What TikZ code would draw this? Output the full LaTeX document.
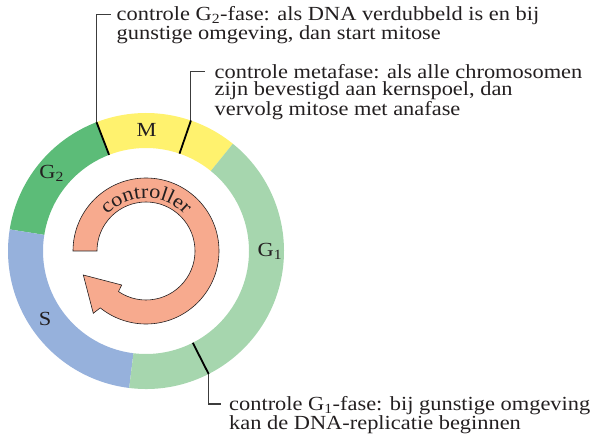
\documentclass[tikz,border=0pt]{standalone}
\usepackage{fontspec}
\setmainfont{Liberation Serif}[FakeStretch=1.12]
\usetikzlibrary{decorations.text}
\definecolor{cM}{RGB}{255,242,110}
\definecolor{cGtwo}{RGB}{92,188,120}
\definecolor{cGone}{RGB}{166,214,174}
\definecolor{cS}{RGB}{150,177,220}
\definecolor{carrow}{RGB}{247,170,142}
\definecolor{cink}{RGB}{35,31,32}
\definecolor{cleader}{RGB}{60,60,60}
\newcommand\lblfont{\fontsize{20pt}{17.7pt}\selectfont}
\def\Rout{138pt}
\def\Rin{103pt}
\newcommand\ringseg[3]{\fill[#1] ([shift={(#2:\Rout)}]C) arc[start angle=#2,end angle=#3,radius=\Rout] -- ([shift={(#3:\Rin)}]C) arc[start angle=#3,end angle=#2,radius=\Rin] -- cycle;}
\tikzset{
  txt/.style={font=\lblfont, text=cink, inner sep=0pt, anchor=base west},
  seglbl/.style={font=\lblfont, text=cink, inner sep=0pt, anchor=base},
  ckline/.style={draw=black, line width=1.8pt},
  leader/.style={draw=cleader, line width=1.1pt},
}
\begin{document}
\begin{tikzpicture}[x=1pt,y=1pt]
\useasboundingbox (0,0) rectangle (604,439);
\coordinate (C) at (146,188);
% ring
\ringseg{cM}{51}{111}
\ringseg{cGtwo}{111}{171}
\ringseg{cS}{171}{263}
\ringseg{cGone}{263}{411}
% segment labels
\node[seglbl] (lM) at (146.7,302.3) {M};
\node[seglbl] (lG2) at (51.7,260.7) {G\textsubscript{2}};
\node[seglbl] (lG1) at (270,182.3) {G\textsubscript{1}};
\node[seglbl] (lS) at (45,114) {S};
% texts
\node[txt] (g2txt) at (116.5,418.3) {\vtop{\baselineskip=17.7pt\hbox{controle G\textsubscript{2}-fase: als DNA verdubbeld is en bij}\hbox{gunstige omgeving, dan start mitose}}};
\node[txt] (mtxt) at (214.5,360.7) {\vtop{\baselineskip=17.7pt\hbox{controle metafase: als alle chromosomen}\hbox{zijn bevestigd aan kernspoel, dan}\hbox{vervolg mitose met anafase}}};
\node[txt] (g1txt) at (229,28.5) {\vtop{\baselineskip=18.5pt\hbox{controle G\textsubscript{1}-fase: bij gunstige omgeving}\hbox{kan de DNA-replicatie beginnen}}};
% checkpoints
\coordinate (g2in) at ([shift={(111:\Rin)}]C);
\coordinate (g2out) at ([shift={(111:\Rout)}]C);
\coordinate (min) at ([shift={(71:\Rin)}]C);
\coordinate (mout) at ([shift={(71:\Rout)}]C);
\coordinate (g1in) at ([shift={(297:\Rin)}]C);
\coordinate (g1out) at ([shift={(297:\Rout)}]C);
\coordinate (g2tick) at ([xshift=-6pt,yshift=6pt]g2txt.base west);
\coordinate (mtick) at ([xshift=-10pt,yshift=6.5pt]mtxt.base west);
\coordinate (g1tick) at ([xshift=-8pt,yshift=6.5pt]g1txt.base west);
\draw[leader] (g2out) |- (g2tick);
\draw[leader] (mout) |- (mtick);
\draw[leader] (g1out) |- (g1tick);
\draw[ckline] (g2in) -- (g2out);
\draw[ckline] (min) -- (mout);
\draw[ckline] (g1in) -- (g1out);
% controller arrow
\filldraw[fill=carrow, draw=cink, line width=0.6pt, line join=miter]
  ([shift={(180:73pt)}]C) arc[start angle=180, end angle=-128.8, radius=73pt]
  -- ([shift={(-52.7pt,-62.3pt)}]C) -- ([shift={(-62.7pt,-24pt)}]C)
  -- ([shift={(-24.3pt,-34pt)}]C) -- ([shift={(-124.2:49pt)}]C)
  arc[start angle=-124.2, end angle=180, radius=49pt] -- cycle;
\path[decorate, decoration={text along path, text={|\lblfont\color{cink}|controller}, text align=center}]
  ([shift={(180:53pt)}]C) arc[start angle=180, end angle=0, radius=53pt];
\end{tikzpicture}
\end{document}
